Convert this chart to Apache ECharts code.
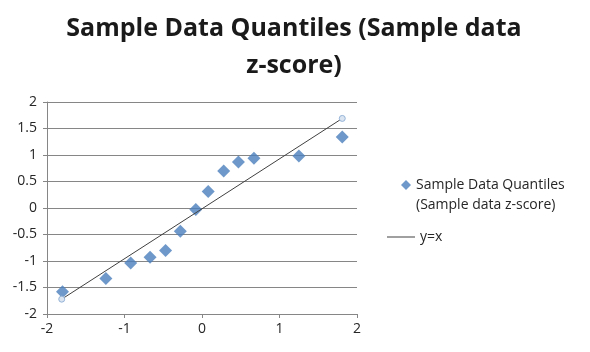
<!DOCTYPE html>
<html>
<head>
<meta charset="utf-8">
<script src="https://cdn.jsdelivr.net/npm/echarts@6/dist/echarts.min.js"></script>
<style>
  html, body { margin: 0; padding: 0; background: #fff; }
  #chart { width: 590px; height: 352px; }
</style>
</head>
<body>
<div id="chart"></div>
<script>
// theoretical quantiles (x) and sample z-scores (y)
const xQuantiles = [-1.80, -1.24, -0.92, -0.67, -0.47, -0.28, -0.08, 0.08, 0.28, 0.47, 0.67, 1.25, 1.81];
const sampleZ = [-1.58, -1.33, -1.04, -0.93, -0.80, -0.44, -0.03, 0.31, 0.70, 0.87, 0.94, 0.98, 1.34];
// reference line endpoints
const lineX = [-1.81, 1.81];
const lineY = [-1.72, 1.69];
const axisTicks = { min: -2, max: 2, yInterval: 0.5, xInterval: 1 };

const scatterData = xQuantiles.map((x, i) => [x, sampleZ[i]]);
const lineData = lineX.map((x, i) => [x, lineY[i]]);

const labelStyle = { color: "#262626", fontSize: 14, fontFamily: "Open Sans" };

const option = {
  animation: false,
  title: {
    text: "Sample Data Quantiles (Sample data\nz-score)",
    left: 289,
    textAlign: "center",
    top: 5,
    textStyle: {
      fontFamily: "Open Sans",
      fontWeight: "bold",
      fontSize: 25,
      lineHeight: 37,
      color: "#1a1a1a",
    },
  },
  grid: { left: 47, right: 233, top: 102, bottom: 38 },
  xAxis: {
    type: "value",
    min: axisTicks.min,
    max: axisTicks.max,
    interval: axisTicks.xInterval,
    axisLine: { show: true, onZero: false, lineStyle: { color: "#868686" } },
    axisTick: { show: true, length: 4, lineStyle: { color: "#868686" } },
    axisLabel: { ...labelStyle, margin: 8 },
    splitLine: { show: false },
  },
  yAxis: {
    type: "value",
    min: axisTicks.min,
    max: axisTicks.max,
    interval: axisTicks.yInterval,
    axisLine: { show: true, onZero: false, lineStyle: { color: "#868686" } },
    axisTick: { show: true, length: 4, lineStyle: { color: "#868686" } },
    axisLabel: { ...labelStyle, margin: 10 },
    splitLine: { show: true, lineStyle: { color: "#868686" } },
  },
  legend: [
    {
      data: ["Sample Data Quantiles"],
      left: 396,
      top: 173,
      icon: "diamond",
      itemWidth: 10,
      itemHeight: 10,
      itemGap: 0,
      textStyle: { ...labelStyle },
    },
    {
      data: [{ name: "y=x", icon: "rect" }],
      left: 382,
      top: 225,
      itemWidth: 28,
      itemHeight: 1,
      itemGap: 0,
      textStyle: { ...labelStyle },
    },
  ],
  // second line of the scatter legend label
  graphic: [
    {
      type: "text",
      left: 416,
      top: 198,
      style: { text: "(Sample data z-score)", ...labelStyle, fill: labelStyle.color },
    },
  ],
  series: [
    {
      name: "Sample Data Quantiles",
      type: "scatter",
      symbol: "diamond",
      symbolSize: 13,
      itemStyle: { color: "#4a7ebb" },
      data: scatterData,
      z: 2,
    },
    {
      name: "y=x",
      type: "line",
      data: lineData,
      symbol: "circle",
      symbolSize: 6,
      showSymbol: true,
      lineStyle: { color: "#404040", width: 1 },
      itemStyle: { color: "#404040" },
      emphasis: { disabled: true },
      z: 3,
    },
  ],
};

const chart = echarts.init(document.getElementById("chart"));
chart.setOption(option);
// endpoint markers are drawn light, legend stays dark
chart.setOption({
  series: [{}, {
    data: lineData.map((p) => ({
      value: p,
      itemStyle: { color: "#dbe5f1", borderColor: "#95b3d7", borderWidth: 1 },
    })),
  }],
});
</script>
</body>
</html>
